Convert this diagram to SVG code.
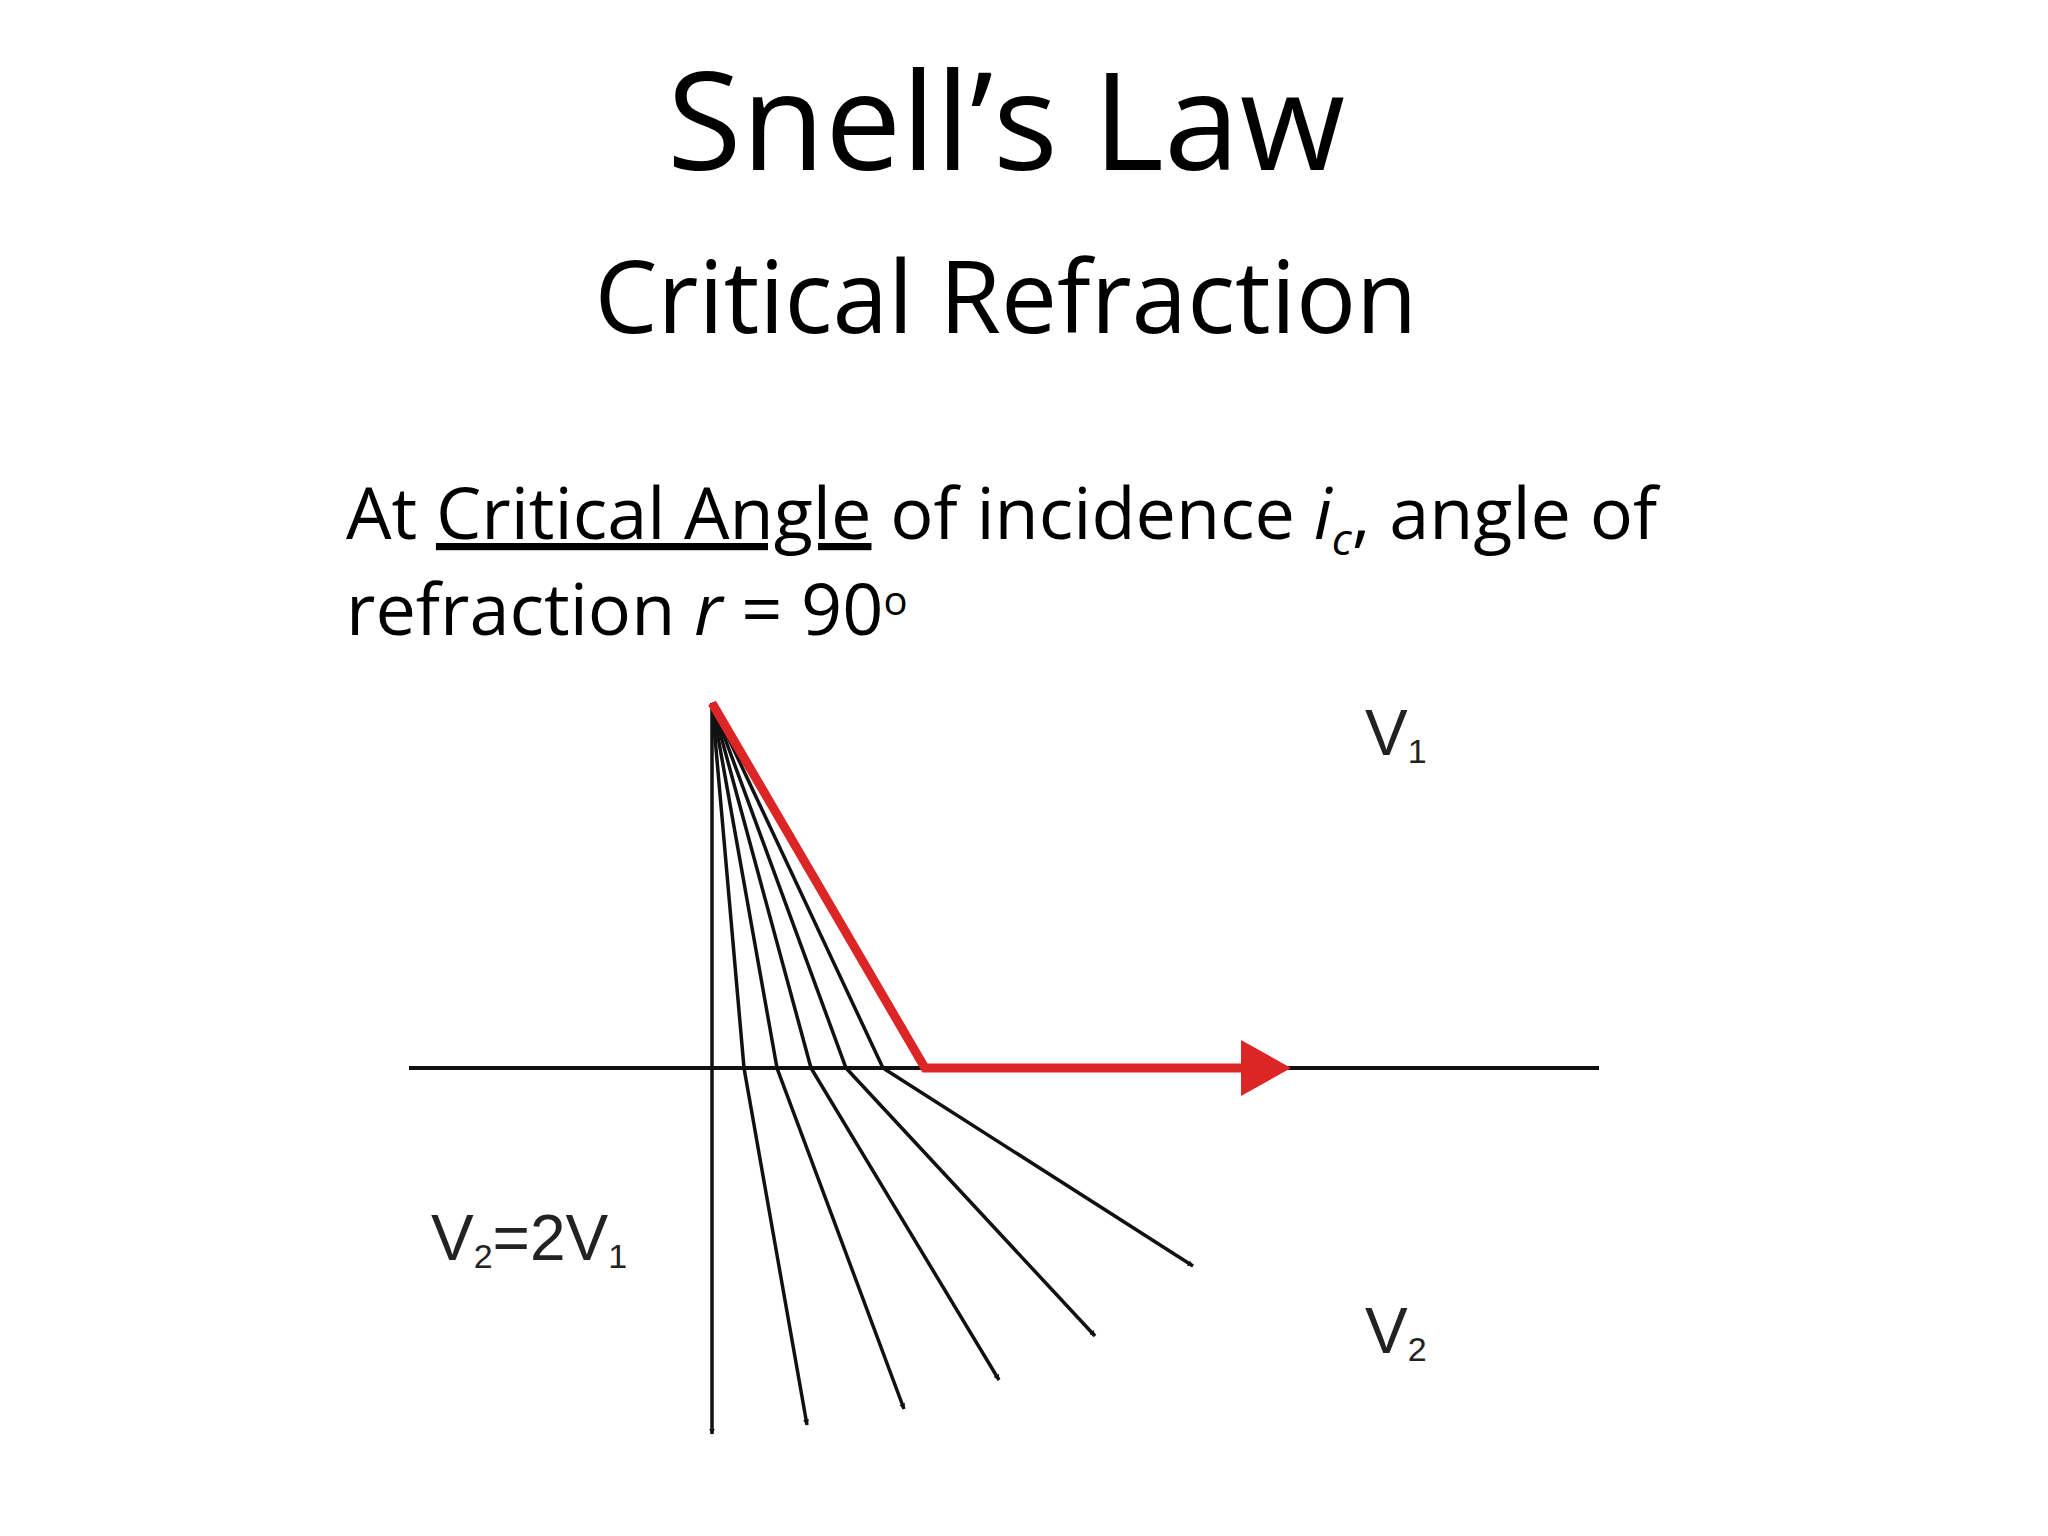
<svg xmlns="http://www.w3.org/2000/svg" width="2048" height="1536" viewBox="0 0 2048 1536">
<style>
.t{font-family:"Open Sans","DejaVu Sans",sans-serif;fill:#000}
.l{font-family:"Liberation Sans",Arial,sans-serif;fill:#222;font-size:64px}
.s{font-size:34px}
.ray{stroke:#111;stroke-width:3.5;fill:none;marker-end:url(#ah)}
</style>
<defs>
<marker id="ah" viewBox="0 0 10 10" refX="9" refY="5" markerWidth="6" markerHeight="6" markerUnits="userSpaceOnUse" orient="auto">
<path d="M0,0 L10,5 L0,10 Z" fill="#111"/>
</marker>
</defs>
<rect width="2048" height="1536" fill="#fff"/>
<g id="title"><text class="t" x="1006" y="170" font-size="136" text-anchor="middle">Snell’s Law</text></g>
<g id="subtitle"><text class="t" x="1006" y="333" font-size="100" text-anchor="middle">Critical Refraction</text></g>
<g id="body">
<text class="t" x="346" y="539" font-size="72">At <tspan text-decoration="underline">Critical Angle</tspan> of incidence <tspan font-style="italic">i</tspan><tspan font-style="italic" font-size="44" dy="16">c</tspan><tspan dy="-16">, angle of</tspan></text>
<text class="t" x="346" y="635" font-size="72">refraction <tspan font-style="italic">r</tspan> = 90<tspan font-size="40" dy="-20">o</tspan></text>
</g>
<g id="connectors">
<line x1="409" y1="1068" x2="1599" y2="1068" stroke="#111" stroke-width="4"/>
<line x1="712" y1="703" x2="712" y2="1434" class="ray" stroke-width="3" style="marker-end:url(#ah)"/>
<polyline class="ray" points="712,703 744,1068 807,1425"/>
<polyline class="ray" points="712,703 777,1068 904,1409"/>
<polyline class="ray" points="712,703 811,1068 999,1380"/>
<polyline class="ray" points="712,703 846,1068 1095,1336"/>
<polyline class="ray" points="712,703 883,1068 1193,1266"/>
<polyline points="712,703 925,1068 1245,1068" fill="none" stroke="#dc2626" stroke-width="9"/>
<polygon points="1241,1040 1291,1068 1241,1096" fill="#dc2626"/>
</g>
<g id="labels">
<text class="l" x="1365" y="755">V<tspan class="s" dy="8">1</tspan></text>
<text class="l" x="1365" y="1353">V<tspan class="s" dy="8">2</tspan></text>
<text class="l" x="431" y="1260">V<tspan class="s" dy="8">2</tspan><tspan dy="-8">=2V</tspan><tspan class="s" dy="8">1</tspan></text>
</g>
</svg>
